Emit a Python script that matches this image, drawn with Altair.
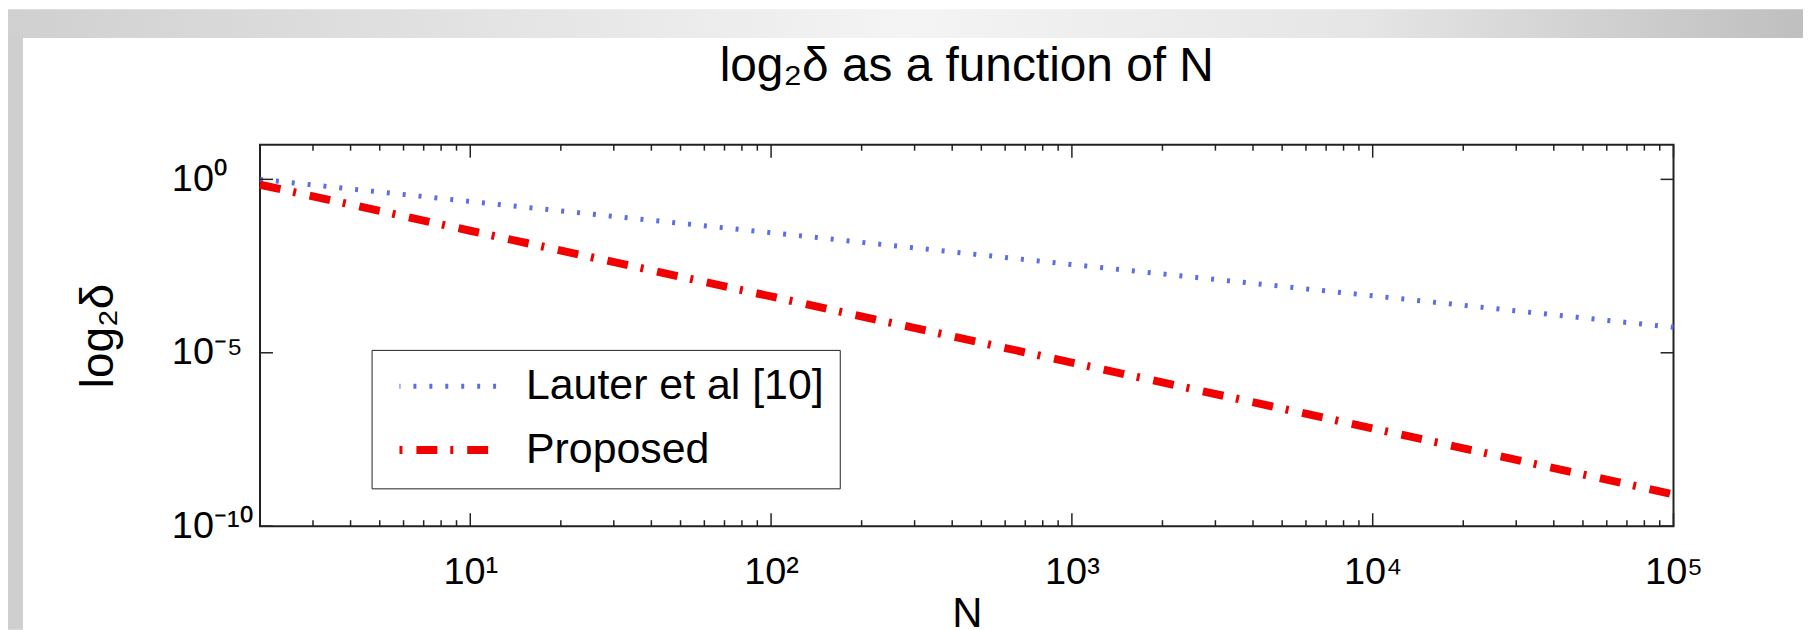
import altair as alt
import pandas as pd

FONT = "Liberation Sans, Arial, Helvetica, sans-serif"

# ---------------- data ----------------
series_names = ["Lauter et al [10]", "Proposed"]
N_values = [2, 10, 100, 1000, 10000, 100000]
lauter_values = [1.0, 0.23, 0.029, 3.5e-3, 4.4e-4, 5.4e-5]
proposed_values = [0.7, 0.033, 4.2e-4, 5.2e-6, 6.6e-8, 8.3e-10]

x_tick_exps = [1, 2, 3, 4, 5]
x_tick_labels = ["10¹", "10²", "10³", "10⁴", "10⁵"]
y_tick_exps = [-10, -5, 0]
y_tick_labels = ["10⁻¹⁰", "10⁻⁵", "10⁰"]
x_minor_multipliers = [2, 3, 4, 5, 6, 7, 8, 9]

title_text = "log₂δ as a function of N"
x_title = "N"
y_title = "log₂δ"

# ---------------- styles ----------------
series_colors = ["#5a6fe6", "#f20000"]
series_dashes = [[3, 13], [21, 13, 3, 14]]
series_widths = [5, 8]
AX = "#222222"
W, H = 1419, 383

rows = []
for name, vals in zip(series_names, [lauter_values, proposed_values]):
    for n, v in zip(N_values, vals):
        rows.append({"N": n, "delta": v, "series": name})
df = pd.DataFrame(rows)

x_scale = alt.Scale(type="log", domain=[2, 100000], nice=False)
y_scale = alt.Scale(type="log", domain=[1e-10, 10], nice=False)


def label_expr(exps, labels):
    parts = [f"(round(log(datum.value)/LN10) == {e}) ? '{l}'" for e, l in zip(exps, labels)]
    return " : ".join(parts) + " : ''"


x_major = [float(f"1e{e}") for e in x_tick_exps]
y_major = [float(f"1e{e}") for e in y_tick_exps]
x_minor = [m * 10 ** k for k in range(0, 5) for m in x_minor_multipliers if 2 <= m * 10 ** k < 100000]

x_axis = alt.Axis(
    values=x_major, labelExpr=label_expr(x_tick_exps, x_tick_labels),
    tickSize=0, domain=False, grid=False,
    labelFont=FONT, labelFontSize=38, labelColor="black", labelPadding=28,
    labelFlush=False, labelOverlap=False,
    titleFont=FONT, titleFontSize=42, titleFontWeight="normal", titleColor="black",
    titleX=W / 2, titleAlign="center", titleY=101, titleBaseline="alphabetic",
)
y_axis = alt.Axis(
    values=y_major, labelExpr=label_expr(y_tick_exps, y_tick_labels),
    tickSize=0, domain=False, grid=False,
    labelFont=FONT, labelFontSize=38, labelColor="black", labelPadding=89,
    labelAlign="left", labelBaseline="middle", labelFlush=False, labelOverlap=False,
    titleFont=FONT, titleFontSize=46, titleFontWeight="normal", titleColor="black",
    titleX=-162, titleY=H / 2, titleAngle=270, titleAlign="center", titleBaseline="middle",
)

legend = alt.Legend(
    title=None, orient="none", legendX=112, legendY=206, direction="vertical",
    fillColor="white", strokeColor=AX, padding=16,
    labelFont=FONT, labelFontSize=43, labelColor="black", labelLimit=0,
    symbolType="stroke", symbolSize=102 * 102, clipHeight=41, rowPadding=20,
    labelOffset=21, symbolOffset=8, symbolDashOffset=34,
)

X = alt.X("N:Q", scale=x_scale, axis=x_axis, title=x_title)
Y = alt.Y("delta:Q", scale=y_scale, axis=y_axis, title=y_title)

lines = alt.Chart(df).mark_line(strokeCap="butt").encode(
    x=X, y=Y,
    color=alt.Color("series:N", scale=alt.Scale(domain=series_names, range=series_colors), legend=legend),
    strokeDash=alt.StrokeDash("series:N", scale=alt.Scale(domain=series_names, range=series_dashes), legend=legend),
    strokeWidth=alt.StrokeWidth("series:N", scale=alt.Scale(domain=series_names, range=series_widths), legend=legend),
)


def xticks(values, y0, y1):
    return alt.Chart(pd.DataFrame({"N": values})).mark_rule(color=AX, strokeWidth=1.5).encode(
        x=X, y=alt.value(y0), y2=alt.value(y1))


def yticks(values, x0, x1):
    return alt.Chart(pd.DataFrame({"delta": values})).mark_rule(color=AX, strokeWidth=1.5).encode(
        y=Y, x=alt.value(x0), x2=alt.value(x1))


tick_layers = [
    xticks(x_major, H, H - 13), xticks(x_minor, H, H - 6),
    xticks(x_major, 0, 13), xticks(x_minor, 0, 6),
    yticks(y_major, 0, 13), yticks(y_major, W, W - 13),
]

deco_df = pd.DataFrame({"k": [0]})
gradient = {
    "gradient": "linear", "x1": 0, "x2": 1, "y1": 0, "y2": 0,
    "stops": [
        {"offset": 0, "color": "#d0d0d0"},
        {"offset": 0.5, "color": "#f4f4f4"},
        {"offset": 0.75, "color": "#e6e6e6"},
        {"offset": 1, "color": "#bfbfbf"},
    ],
}
top_band = alt.Chart(deco_df).mark_rect(fill=gradient).encode(
    x=alt.value(-253), x2=alt.value(W + 130), y=alt.value(-136), y2=alt.value(-107))
left_strip = alt.Chart(deco_df).mark_rect(color="#cfcfcf").encode(
    x=alt.value(-253), x2=alt.value(-238), y=alt.value(-107), y2=alt.value(H + 104))

chart = alt.layer(top_band, left_strip, lines, *tick_layers).properties(
    width=W, height=H,
    title=alt.TitleParams(title_text, font=FONT, fontSize=48, fontWeight="normal", color="black",
                          anchor="middle", frame="group", baseline="alphabetic", offset=0, dy=120),
    autosize=alt.AutoSizeParams(type="none"),
    padding={"left": 253, "top": 136, "right": 130, "bottom": 104},
).configure(background="white", view=alt.ViewConfig(stroke=AX, strokeWidth=2))

chart.save("out.html", embed_options={"renderer": "svg", "actions": False})
